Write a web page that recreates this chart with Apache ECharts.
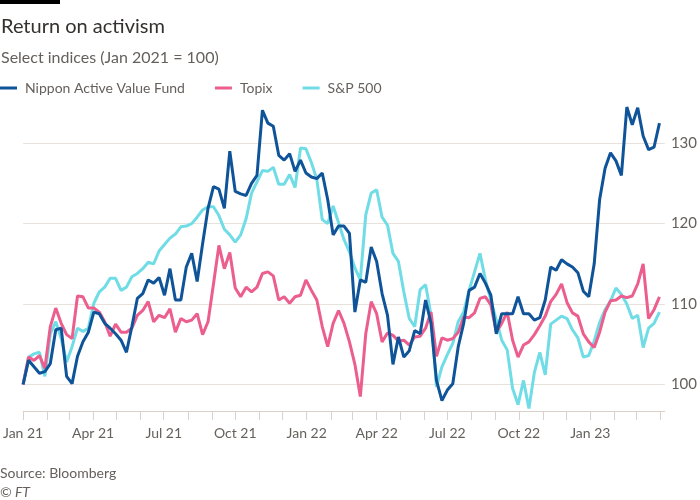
<!DOCTYPE html>
<html>
<head>
<meta charset="utf-8">
<script src="https://cdn.jsdelivr.net/npm/echarts@6/dist/echarts.min.js"></script>
<style>
  html, body { margin: 0; padding: 0; background: #fff; }
  #chart { width: 700px; height: 500px; }
</style>
</head>
<body>
<div id="chart"></div>
<script>
// Weekly observations, starting Friday 1 Jan 2021 (index = 100)
const firstWeek = [2021, 0, 1];
const seriesNames = ['Nippon Active Value Fund', 'Topix', 'S&P 500'];
const navf = [
  100, 103.0, 102.2, 101.4, 101.6, 102.6, 106.8, 107.0, 101.0, 100.1,
  103.5, 105.3, 106.5, 109.0, 108.8, 107.6, 107.0, 106.3, 105.5, 104.0,
  107.2, 110.7, 111.3, 113.0, 112.6, 113.3, 111.1, 114.4, 110.5, 110.5,
  114.6, 116.3, 112.8, 117.5, 121.9, 124.6, 124.3, 121.9, 129.0, 124.0,
  123.7, 123.5, 125.0, 126.0, 134.1, 132.5, 132.1, 128.5, 127.9, 128.7,
  126.5, 127.9, 126.3, 125.8, 125.6, 126.3, 123.0, 118.6, 119.7, 119.7,
  118.8, 109.0, 113.0, 112.7, 117.1, 115.3, 111.3, 108.6, 102.5, 105.9,
  103.4, 104.2, 106.7, 106.3, 110.5, 107.6, 100.5, 98.0, 99.3, 100.1,
  104.7, 107.6, 111.7, 112.1, 113.8, 112.6, 111.1, 106.3, 108.8, 108.8,
  108.8, 110.9, 108.8, 108.8, 108.0, 108.3, 110.5, 114.6, 114.2, 115.5,
  115.0, 114.6, 113.9, 111.6, 110.9, 115.0, 123.0, 126.9, 128.8, 127.8,
  126.0, 134.5, 132.3, 134.4, 130.9, 129.2, 129.5, 132.5
];
const topix = [
  100, 103.4, 103.0, 103.6, 102.0, 107.2, 109.5, 107.6, 106.2, 105.7,
  111.0, 110.9, 109.5, 109.5, 109.0, 107.8, 106.0, 107.5, 106.5, 106.5,
  107.0, 108.6, 109.2, 110.3, 107.8, 108.6, 108.3, 109.4, 106.5, 108.2,
  107.8, 108.0, 108.8, 106.2, 107.8, 112.5, 117.3, 114.4, 116.4, 112.0,
  110.9, 112.1, 111.5, 112.1, 113.8, 114.0, 113.5, 110.5, 110.9, 110.1,
  110.9, 111.1, 113.0, 111.7, 110.5, 107.2, 104.7, 107.6, 109.2, 107.6,
  105.3, 102.5, 98.5, 106.3, 110.3, 108.8, 105.3, 106.4, 106.1, 105.4,
  105.5, 104.9, 105.9, 106.0, 107.0, 109.0, 103.5, 105.8, 105.5, 105.7,
  106.5, 108.4, 108.3, 108.9, 110.7, 110.9, 109.9, 106.5, 107.6, 109.0,
  105.5, 103.4, 104.9, 105.3, 106.2, 107.3, 108.5, 110.3, 111.2, 112.5,
  110.2, 108.9, 108.5, 106.3, 105.3, 104.6, 106.5, 109.0, 110.4, 110.5,
  111.0, 110.8, 111.0, 112.5, 115.0, 108.2, 109.3, 110.9
];
const sp500 = [
  100, 103.4, 103.8, 104.0, 101.0, 106.3, 107.8, 105.7, 102.8, 104.7,
  107.0, 106.6, 107.0, 110.1, 111.5, 112.1, 113.2, 113.2, 111.7, 112.1,
  113.4, 113.8, 114.4, 115.2, 115.0, 116.6, 117.4, 118.2, 118.7, 119.6,
  119.7, 120.0, 120.8, 121.7, 122.1, 122.1, 121.0, 119.3, 118.6, 117.7,
  118.6, 120.6, 123.8, 125.2, 126.6, 126.5, 127.0, 124.9, 124.9, 126.1,
  124.5, 129.4, 129.3, 127.6, 125.5, 120.5, 120.0, 122.2, 120.1, 118.0,
  116.5, 114.5, 113.0, 121.1, 123.8, 124.2, 120.8, 119.8, 116.3, 115.3,
  111.5, 108.2, 107.2, 111.8, 112.4, 108.6, 99.7, 102.2, 103.7, 105.1,
  107.8, 109.0, 111.7, 114.0, 116.3, 113.0, 110.5, 108.0, 105.5, 104.3,
  99.5, 97.5, 100.5, 97.0, 101.5, 104.0, 101.2, 107.5, 108.0, 108.5,
  108.2, 106.8, 105.8, 103.4, 103.6, 105.4, 107.7, 109.3, 110.4, 112.0,
  111.2, 110.0, 108.2, 108.6, 104.6, 107.0, 107.6, 109.0
];
const quarterLabels = {
  '2021-0': 'Jan 21', '2021-3': 'Apr 21', '2021-6': 'Jul 21', '2021-9': 'Oct 21',
  '2022-0': 'Jan 22', '2022-3': 'Apr 22', '2022-6': 'Jul 22', '2022-9': 'Oct 22',
  '2023-0': 'Jan 23'
};
const yTicks = [100, 110, 120, 130];

const colors = ['#0f5499', '#eb5e8d', '#70dce6'];
const weekDates = navf.map((_, i) =>
  new Date(firstWeek[0], firstWeek[1], firstWeek[2] + 7 * i).getTime());
const pairs = vals => vals.map((v, i) => [weekDates[i], v]);

const font = 'Lato, "Noto Sans", sans-serif';
const chart = echarts.init(document.getElementById('chart'), null, { renderer: 'canvas' });
chart.setOption({
  animation: false,
  backgroundColor: '#ffffff',
  textStyle: { fontFamily: font },
  title: {
    text: 'Return on activism',
    subtext: 'Select indices (Jan 2021 = 100)',
    left: -4, top: 12,
    itemGap: 13,
    textStyle: { fontFamily: font, fontSize: 20, fontWeight: 'normal', color: '#33302e' },
    subtextStyle: { fontFamily: font, fontSize: 16, color: '#66605c' }
  },
  legend: {
    left: 0, top: 81, padding: 0,
    icon: 'rect', itemWidth: 17, itemHeight: 3, itemGap: 30,
    textStyle: { fontFamily: font, fontSize: 14, color: '#66605c', padding: [0, 0, 0, 3] },
    data: seriesNames
  },
  grid: { left: 21, right: 34, top: 103, bottom: 89, containLabel: false },
  xAxis: {
    type: 'time',
    min: new Date(2021, 0, 1).getTime(),
    max: new Date(2023, 3, 7).getTime(),
    splitNumber: 27,
    minInterval: 28 * 86400000,
    maxInterval: 31 * 86400000,
    axisLine: { show: true, lineStyle: { color: '#d9d1ca', width: 1 } },
    axisTick: { show: true, length: 9, lineStyle: { color: '#d9d1ca' } },
    splitLine: { show: false },
    axisLabel: {
      margin: 15,
      color: '#66605c', fontSize: 14, fontFamily: font,
      hideOverlap: false,
      formatter: function (value) {
        const d = new Date(value);
        return quarterLabels[d.getFullYear() + '-' + d.getMonth()] || '';
      }
    }
  },
  yAxis: {
    type: 'value',
    position: 'right',
    min: 96.7, max: 135,
    splitNumber: 4,
    axisLine: { show: false },
    axisTick: { show: false },
    splitLine: { show: true, showMinLine: false, showMaxLine: false,
                 lineStyle: { color: '#e9e2dc', width: 1 } },
    axisLabel: {
      margin: 6, color: '#66605c', fontSize: 15, fontFamily: font,
      showMinLabel: false, showMaxLabel: false,
      formatter: v => (yTicks.indexOf(Math.round(v * 10) / 10) >= 0 ? String(v) : '')
    }
  },
  series: [
    { name: seriesNames[2], type: 'line', data: pairs(sp500), showSymbol: false, z: 2,
      lineStyle: { color: colors[2], width: 3 }, itemStyle: { color: colors[2] } },
    { name: seriesNames[1], type: 'line', data: pairs(topix), showSymbol: false, z: 3,
      lineStyle: { color: colors[1], width: 3 }, itemStyle: { color: colors[1] } },
    { name: seriesNames[0], type: 'line', data: pairs(navf), showSymbol: false, z: 4,
      lineStyle: { color: colors[0], width: 3 }, itemStyle: { color: colors[0] } }
  ],
  graphic: [
    { type: 'rect', left: 0, top: 0, shape: { width: 60, height: 4 }, style: { fill: '#000' } },
    { type: 'text', left: 0, top: 466, style: { text: 'Source: Bloomberg', fill: '#66605c', font: '14px ' + font } },
    { type: 'text', left: 0, top: 485, style: { text: '\u00a9 FT', fill: '#66605c', font: 'italic 14px ' + font } }
  ]
});
</script>
</body>
</html>
